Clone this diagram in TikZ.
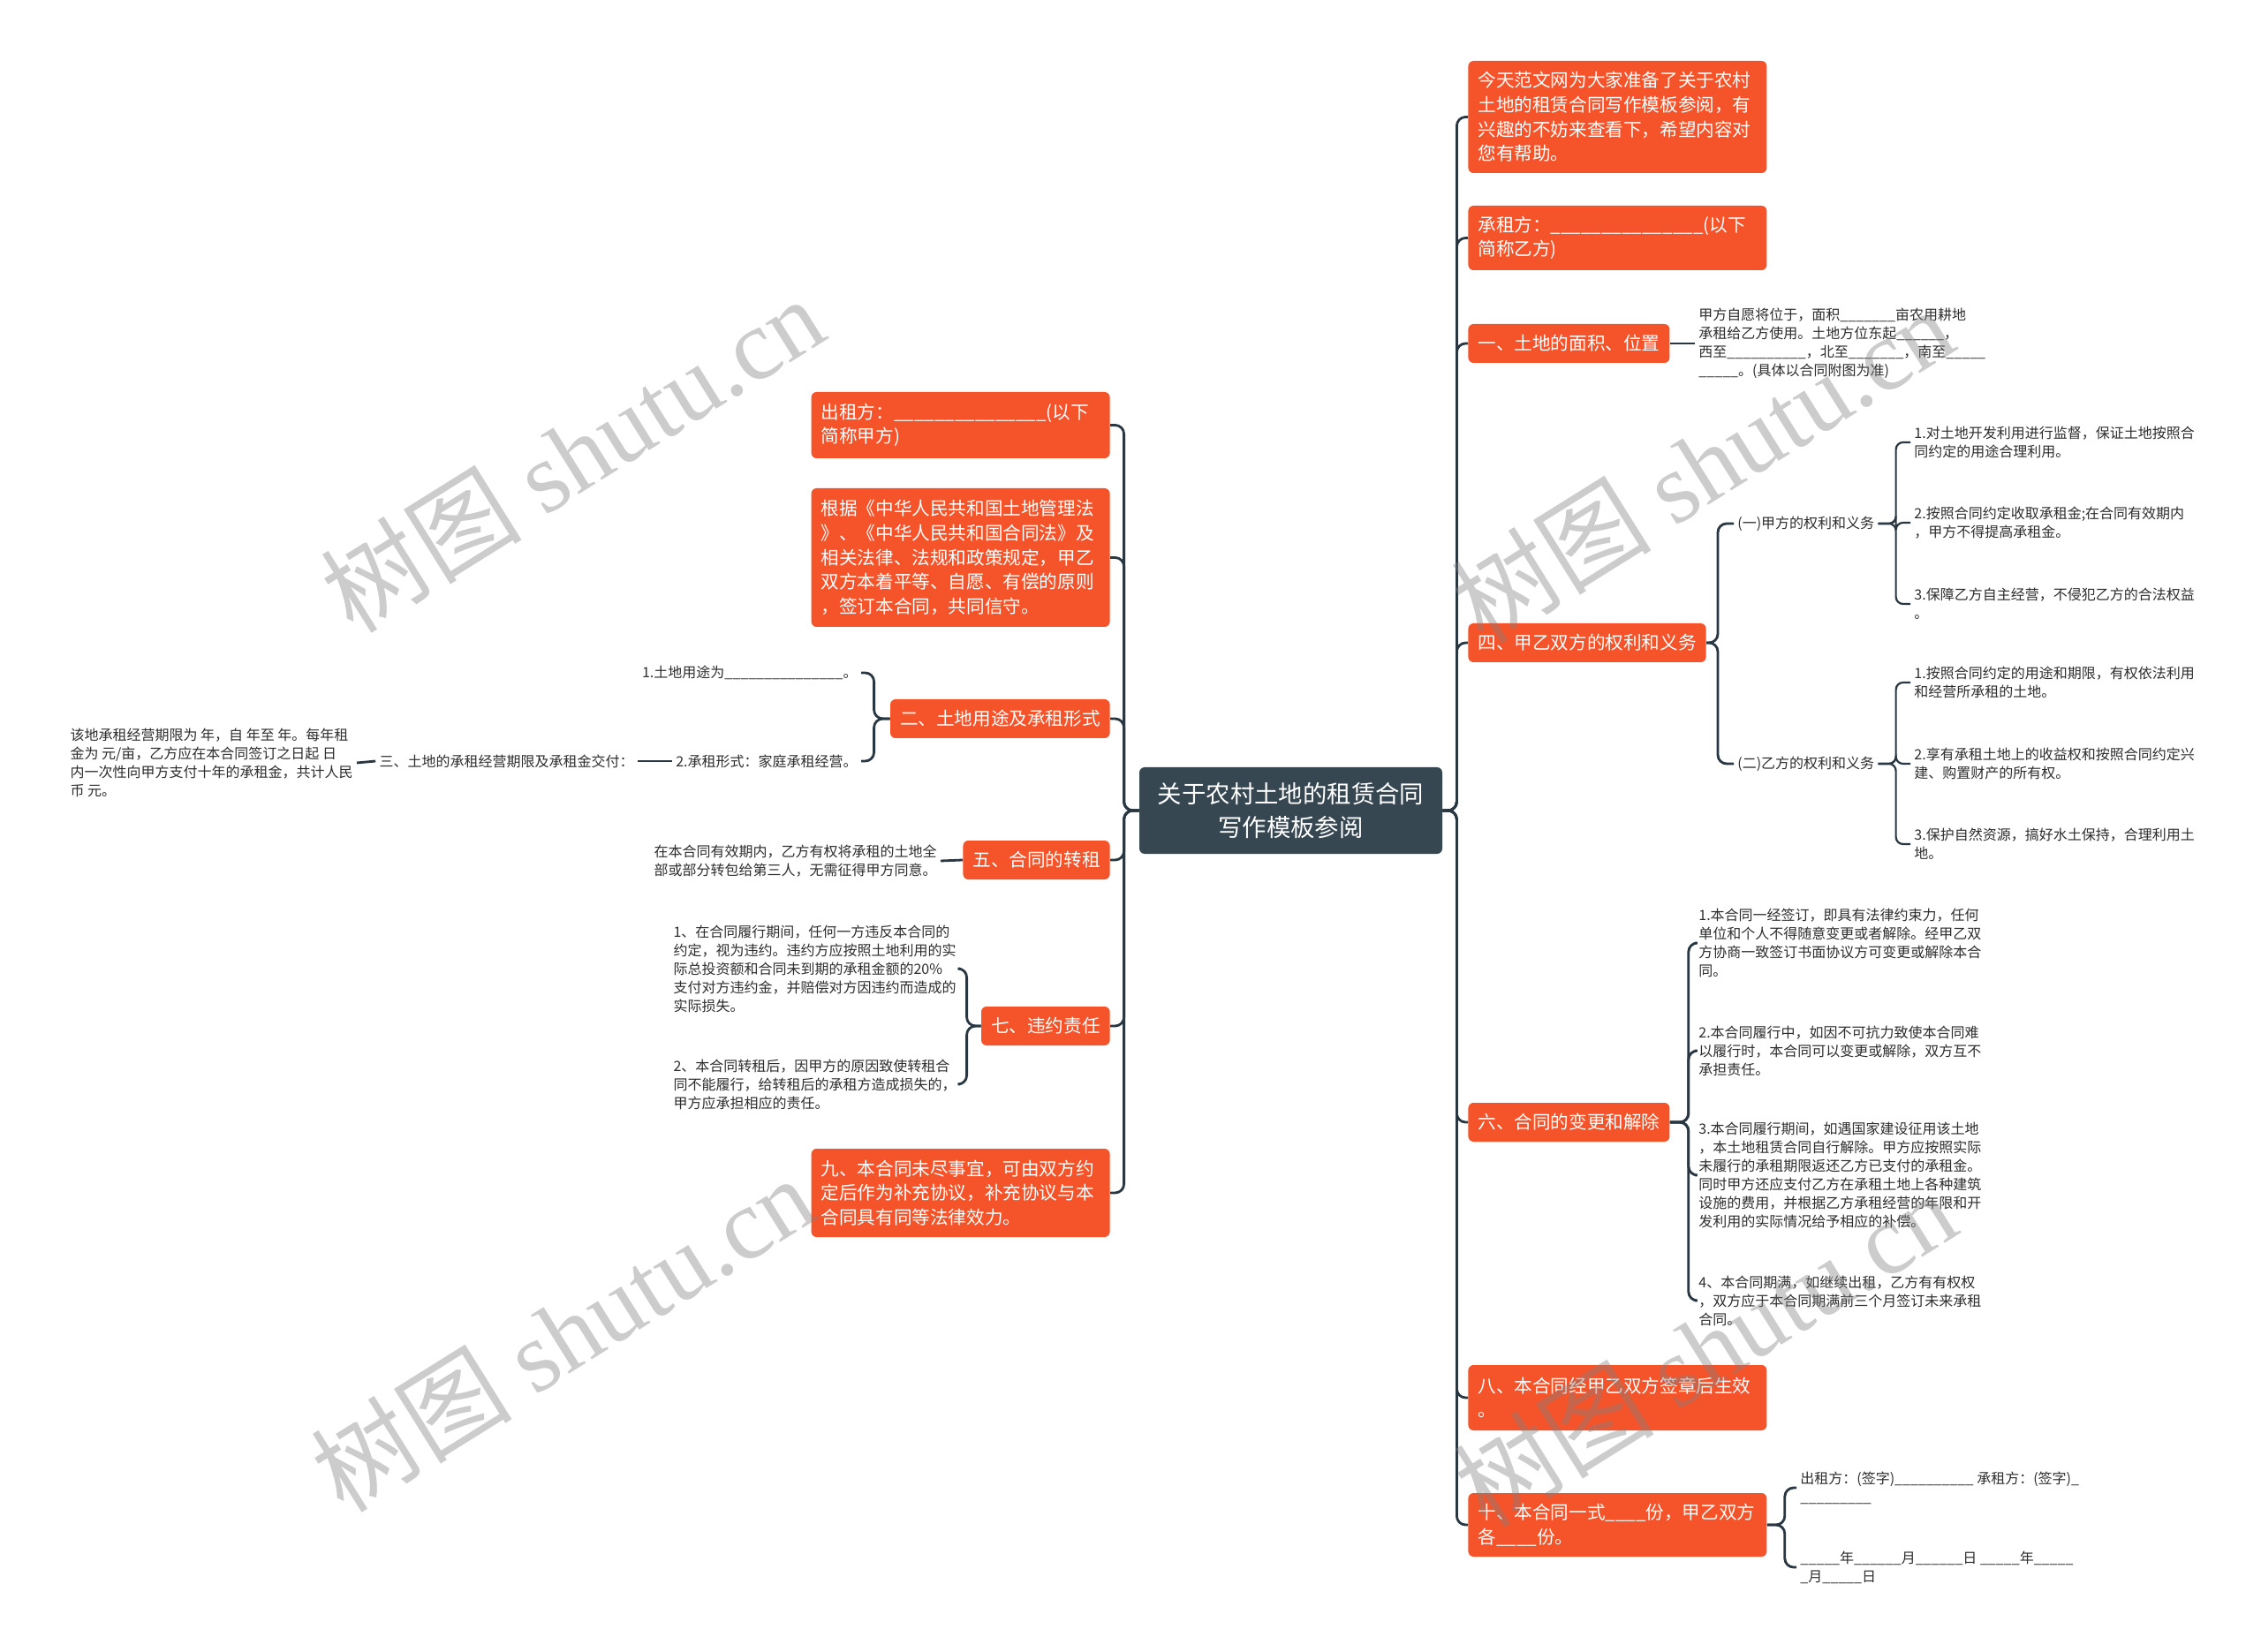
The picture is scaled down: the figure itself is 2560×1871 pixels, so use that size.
\documentclass[tikz,border=0pt]{standalone}
\usepackage{fontspec}
\setmainfont{Noto Sans CJK SC}
\newfontfamily\wmlatin{Liberation Serif}
\ExplSyntaxOn
\NewDocumentCommand\ub{m}{\prg_replicate:nn{#1}{\_}}
\ExplSyntaxOff
\definecolor{boxred}{RGB}{245,83,42}
\definecolor{hubdark}{RGB}{54,71,82}
\definecolor{linec}{RGB}{40,55,66}
\definecolor{txtc}{RGB}{45,45,45}
\tikzset{
  rbox/.style={fill=boxred, rounded corners=3pt, text=white, font=\fontsize{10.3pt}{13.8pt}\selectfont, align=left, inner xsep=5.5pt, inner ysep=3pt, minimum height=22pt},
  hub/.style={fill=hubdark, rounded corners=3pt, text=white, font=\fontsize{13.7pt}{18.8pt}\selectfont, align=center, minimum width=171.5pt, minimum height=49pt},
  leaf/.style={text=txtc, font=\fontsize{8pt}{10.5pt}\selectfont, align=left, inner sep=2pt},
  conn/.style={draw=linec, line width=1.4pt, rounded corners=5pt},
  thinconn/.style={draw=linec, line width=1.1pt, rounded corners=4pt},
  wm/.style={text=gray, opacity=0.4, rotate=32, font=\fontsize{57pt}{57pt}\selectfont},
}
\begin{document}
\begin{tikzpicture}[x=0.5pt, y=-0.5pt]
\fill[white] (0,0) rectangle (2560,1871);
\useasboundingbox (0,0) rectangle (2560,1871);

% hub
\node[hub] (C) at (1461.5,918) {关于农村土地的租赁合同\\写作模板参阅};

% right boxes
\node[rbox, anchor=west, text width=158pt, minimum height=63.5pt] (R1) at (1662,132.5) {今天范文网为大家准备了关于农村\\土地的租赁合同写作模板参阅，有\\兴趣的不妨来查看下，希望内容对\\您有帮助。};
\node[rbox, anchor=west, text width=158pt, minimum height=36.5pt] (R2) at (1662,269.5) {承租方：\ub{15}(以下\\简称乙方)};
\node[rbox, anchor=west] (R3) at (1662,389) {一、土地的面积、位置};
\node[rbox, anchor=west] (R4) at (1662,728) {四、甲乙双方的权利和义务};
\node[rbox, anchor=west] (R5) at (1662,1271) {六、合同的变更和解除};
\node[rbox, anchor=west, text width=158pt, minimum height=37pt] (R6) at (1662,1583) {八、本合同经甲乙双方签章后生效\\。};
\node[rbox, anchor=west, text width=158pt, minimum height=36pt] (R7) at (1662,1727) {十、本合同一式\ub{4}份，甲乙双方\\各\ub{4}份。};

% left boxes
\node[rbox, anchor=east, text width=158pt, minimum height=37.5pt] (L1) at (1257,481.5) {出租方：\ub{15}(以下\\简称甲方)};
\node[rbox, anchor=east, text width=158pt, minimum height=78.5pt] (L2) at (1257,631.5) {根据《中华人民共和国土地管理法\\》、《中华人民共和国合同法》及\\相关法律、法规和政策规定，甲乙\\双方本着平等、自愿、有偿的原则\\，签订本合同，共同信守。};
\node[rbox, anchor=east] (L3) at (1257,814) {二、土地用途及承租形式};
\node[rbox, anchor=east] (L4) at (1257,974) {五、合同的转租};
\node[rbox, anchor=east] (L5) at (1257,1162) {七、违约责任};
\node[rbox, anchor=east, text width=158pt, minimum height=50pt] (L6) at (1257,1351) {九、本合同未尽事宜，可由双方约\\定后作为补充协议，补充协议与本\\合同具有同等法律效力。};

% right leaves
\node[leaf, anchor=west] (T3) at (1919,389) {甲方自愿将位于，面积\ub{7}亩农用耕地\\承租给乙方使用。土地方位东起\ub{6}，\\西至\ub{10}，北至\ub{7}，南至\ub{5}\\\ub{5}。(具体以合同附图为准)};
\node[leaf, anchor=west] (S1) at (1963,593) {(一)甲方的权利和义务};
\node[leaf, anchor=west] (S2) at (1963,865) {(二)乙方的权利和义务};
\node[leaf, anchor=west] (A1) at (2163,501) {1.对土地开发利用进行监督，保证土地按照合\\同约定的用途合理利用。};
\node[leaf, anchor=west] (A2) at (2163,592) {2.按照合同约定收取承租金;在合同有效期内\\，甲方不得提高承租金。};
\node[leaf, anchor=west] (A3) at (2163,684) {3.保障乙方自主经营，不侵犯乙方的合法权益\\。};
\node[leaf, anchor=west] (B1) at (2163,773) {1.按照合同约定的用途和期限，有权依法利用\\和经营所承租的土地。};
\node[leaf, anchor=west] (B2) at (2163,865) {2.享有承租土地上的收益权和按照合同约定兴\\建、购置财产的所有权。};
\node[leaf, anchor=west] (B3) at (2163,956) {3.保护自然资源，搞好水土保持，合理利用土\\地。};
\node[leaf, anchor=west] (F1) at (1919,1068) {1.本合同一经签订，即具有法律约束力，任何\\单位和个人不得随意变更或者解除。经甲乙双\\方协商一致签订书面协议方可变更或解除本合\\同。};
\node[leaf, anchor=west] (F2) at (1919,1190) {2.本合同履行中，如因不可抗力致使本合同难\\以履行时，本合同可以变更或解除，双方互不\\承担责任。};
\node[leaf, anchor=west] (F3) at (1919,1331) {3.本合同履行期间，如遇国家建设征用该土地\\，本土地租赁合同自行解除。甲方应按照实际\\未履行的承租期限返还乙方已支付的承租金。\\同时甲方还应支付乙方在承租土地上各种建筑\\设施的费用，并根据乙方承租经营的年限和开\\发利用的实际情况给予相应的补偿。};
\node[leaf, anchor=west] (F4) at (1919,1473) {4、本合同期满，如继续出租，乙方有有权权\\，双方应于本合同期满前三个月签订未来承租\\合同。};
\node[leaf, anchor=west] (G1) at (2034,1685) {出租方：(签字)\ub{10} 承租方：(签字)\_\\\ub{9}};
\node[leaf, anchor=west] (G2) at (2034,1775) {\ub{5}年\ub{6}月\ub{6}日 \ub{5}年\ub{5}\\\_月\ub{5}日};

% left leaves
\node[leaf, anchor=east] (H1) at (975,762) {1.土地用途为\ub{15}。};
\node[leaf, anchor=east] (H2) at (975,862) {2.承租形式：家庭承租经营。};
\node[leaf, anchor=east] (K) at (722,862) {三、土地的承租经营期限及承租金交付：};
\node[leaf, anchor=east] (M) at (404,864) {该地承租经营期限为 年，自 年至 年。每年租\\金为 元/亩，乙方应在本合同签订之日起 日\\内一次性向甲方支付十年的承租金，共计人民\\币 元。};
\node[leaf, anchor=east] (N) at (1065,975) {在本合同有效期内，乙方有权将承租的土地全\\部或部分转包给第三人，无需征得甲方同意。};
\node[leaf, anchor=east] (P1) at (1087,1097) {1、在合同履行期间，任何一方违反本合同的\\约定，视为违约。违约方应按照土地利用的实\\际总投资额和合同未到期的承租金额的20\%\\支付对方违约金，并赔偿对方因违约而造成的\\实际损失。};
\node[leaf, anchor=east] (P2) at (1087,1228) {2、本合同转租后，因甲方的原因致使转租合\\同不能履行，给转租后的承租方造成损失的，\\甲方应承担相应的责任。};

% connectors: hub to right
\foreach \n in {R1,R2,R3,R4,R5,R6,R7}
  \draw[conn] (C.east) -- ++(8pt,0pt) |- (\n.west);
% hub to left
\foreach \n in {L1,L2,L3,L4,L5,L6}
  \draw[conn] (C.west) -- ++(-8.5pt,0pt) |- (\n.east);

\draw[conn] (R3.east) -- (T3.west);
\foreach \n in {S1,S2}
  \draw[conn] (R4.east) -- ++(6.5pt,0pt) |- (\n.west);
\foreach \n in {A1,A2,A3}
  \draw[thinconn] (S1.east) -- ++(10pt,0pt) |- (\n.west);
\foreach \n in {B1,B2,B3}
  \draw[thinconn] (S2.east) -- ++(10pt,0pt) |- (\n.west);
\foreach \n in {F1,F2,F3,F4}
  \draw[conn] (R5.east) -- ++(10.5pt,0pt) |- (\n.west);
\foreach \n in {G1,G2}
  \draw[conn] (R7.east) -- ++(10pt,0pt) |- (\n.west);

\foreach \n in {H1,H2}
  \draw[conn] (L3.west) -- ++(-9pt,0pt) |- (\n.east);
\draw[conn] (H2.west) -- (K.east);
\draw[conn] (K.west) -- (M.east);
\draw[conn] (L4.west) -- (N.east);
\foreach \n in {P1,P2}
  \draw[conn] (L5.west) -- ++(-8pt,0pt) |- (\n.east);

% watermarks
\node[wm] (W1) at (648,514) {树图 {\wmlatin shutu.cn}};
\node[wm] (W2) at (1927,526) {树图 {\wmlatin shutu.cn}};
\node[wm] (W3) at (637,1510) {树图 {\wmlatin shutu.cn}};
\node[wm] (W4) at (1930,1527) {树图 {\wmlatin shutu.cn}};
\end{tikzpicture}
\end{document}
